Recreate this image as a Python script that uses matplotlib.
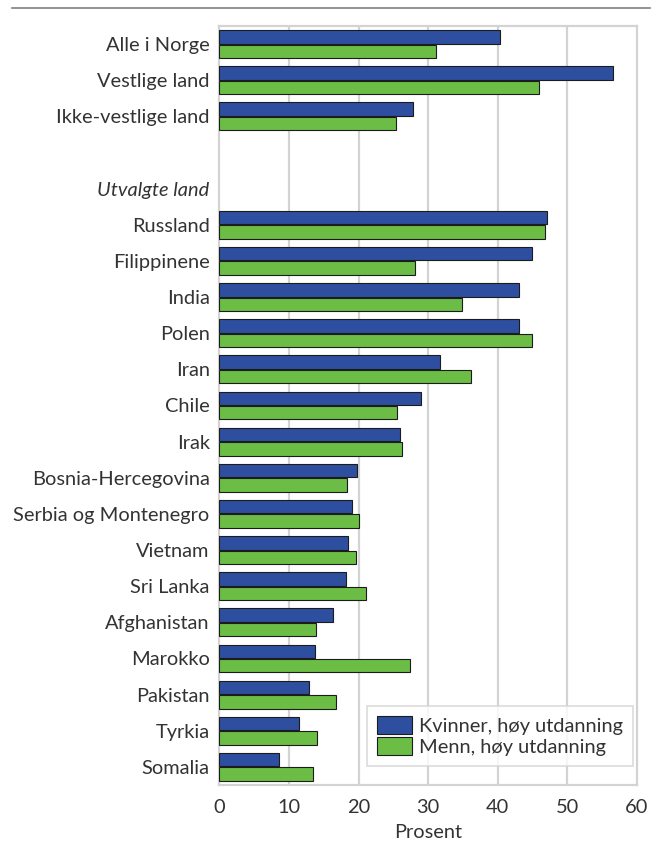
import matplotlib
matplotlib.use("Agg")
import matplotlib.pyplot as plt
import numpy as np

categories = ["Alle i Norge", "Vestlige land", "Ikke-vestlige land", "", "Utvalgte land",
              "Russland", "Filippinene", "India", "Polen", "Iran", "Chile", "Irak",
              "Bosnia-Hercegovina", "Serbia og Montenegro", "Vietnam", "Sri Lanka",
              "Afghanistan", "Marokko", "Pakistan", "Tyrkia", "Somalia"]
kvinner = [40.3, 56.6, 27.8, np.nan, np.nan,
           47.1, 44.9, 43.1, 43.1, 31.7, 28.9, 26.0, 19.8, 19.0, 18.5, 18.2,
           16.3, 13.8, 12.9, 11.5, 8.5]
menn = [31.1, 45.9, 25.4, np.nan, np.nan,
        46.8, 28.1, 34.8, 44.9, 36.2, 25.5, 26.2, 18.3, 20.0, 19.6, 21.0,
        13.9, 27.4, 16.7, 14.0, 13.5]
series_labels = ["Kvinner, høy utdanning", "Menn, høy utdanning"]
xticks = [0, 10, 20, 30, 40, 50, 60]
xlabel = "Prosent"

plt.rcParams['font.family'] = ['Lato', 'DejaVu Sans']
FS = 14.4
TXT = '#333333'
GRID = '#d3d3d3'
BLUE = '#2e4fa0'
GREEN = '#6bbd45'

fig = plt.figure(figsize=(6.57, 8.46), dpi=100)
ax = fig.add_axes([0.334, 0.0721, 0.6356, 0.8972])

y = np.arange(len(categories))
h = 0.37
off = 0.2
ax.barh(y - off, kvinner, height=h, color=BLUE, edgecolor='#1c1c1c', linewidth=0.8,
        label=series_labels[0], zorder=3)
ax.barh(y + off, menn, height=h, color=GREEN, edgecolor='#1c1c1c', linewidth=0.8,
        label=series_labels[1], zorder=3)

ax.set_ylim(len(categories) - 0.5, -0.5)
ax.set_xlim(0, 60)
ax.set_xticks(xticks)
ax.set_xticklabels([str(t) for t in xticks], fontsize=FS, color=TXT)
ax.set_yticks(y)
ax.set_yticklabels(categories, fontsize=FS, color=TXT)
for lbl in ax.get_yticklabels():
    if lbl.get_text() == "Utvalgte land":
        lbl.set_fontstyle('italic')
ax.tick_params(axis='both', length=0)
ax.tick_params(axis='y', pad=7)
ax.tick_params(axis='x', pad=10)
ax.set_xlabel(xlabel, fontsize=FS, color=TXT, labelpad=6)

for t in xticks[1:-1]:
    ax.axvline(t, color=GRID, linewidth=1.6, zorder=1)
for s in ax.spines.values():
    s.set_color(GRID)
    s.set_linewidth(1.6)

leg = ax.legend(loc='lower right', bbox_to_anchor=(0.99, 0.025), borderaxespad=0,
                fontsize=FS, frameon=True, fancybox=False, handlelength=1.75,
                handleheight=1.0, handletextpad=0.35, borderpad=0.5, labelspacing=0.1)
leg.get_frame().set_edgecolor(GRID)
leg.get_frame().set_linewidth(1.2)
for t in leg.get_texts():
    t.set_color(TXT)

fig.add_artist(plt.Line2D([12/657, 650/657], [1 - 8/846, 1 - 8/846],
                          color='#808080', linewidth=1.2))

fig.savefig("out.png", dpi=100)
